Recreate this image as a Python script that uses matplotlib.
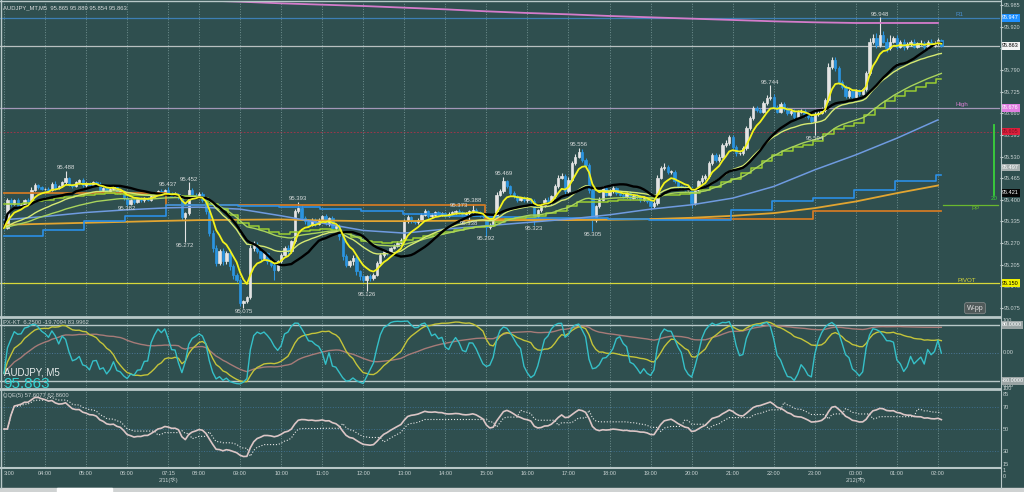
import numpy as np
import pandas as pd
import matplotlib
matplotlib.use("Agg")
import matplotlib.pyplot as plt
from matplotlib.lines import Line2D
from matplotlib.patches import Rectangle

plt.rcParams['font.family'] = ['Liberation Sans', 'Noto Sans CJK JP']

# AUDJPY M5, prices as 1/1000 yen above 95.000, one row per hour
first_open = 330
close_pips = [
    315, 400, 388, 398, 380, 385, 400, 395, 430, 445, 438, 432,   # 03
    432, 428, 448, 435, 440, 452, 465, 445, 440, 452, 458, 443,   # 04
    450, 445, 452, 446, 428, 435, 425, 432, 438, 422, 425, 405,   # 05
    388, 398, 392, 402, 398, 405, 400, 412, 418, 425, 420, 428,   # 06
    418, 412, 418, 408, 348, 360, 428, 415, 410,                  # 07:15
    418, 400, 365, 300, 255, 210, 245, 215, 240, 200, 175, 160,   # 08
    90, 95, 108, 255, 265, 245, 225, 240, 215, 205, 190, 215,     # 09
    235, 255, 245, 275, 365, 375, 345, 335, 325, 340, 328, 340,   # 10
    350, 330, 345, 315, 320, 290, 230, 205, 215, 225, 185, 170,   # 11
    160, 170, 165, 175, 210, 235, 245, 240, 255, 262, 270, 278,   # 12
    335, 348, 335, 332, 340, 355, 365, 350, 355, 362, 355, 360,   # 13
    352, 358, 362, 365, 362, 358, 360, 365, 370, 362, 355, 350,   # 14
    318, 325, 345, 415, 425, 455, 440, 420, 410, 400, 405, 398,   # 15
    402, 395, 350, 368, 385, 400, 392, 410, 440, 465, 470, 425,   # 16
    460, 510, 530, 545, 520, 505, 430, 340, 380, 400, 435, 415,   # 17
    425, 435, 420, 415, 410, 420, 405, 412, 408, 400, 405, 395,   # 18
    380, 390, 465, 495, 500, 482, 485, 455, 440, 438, 430, 435,   # 19
    390, 430, 455, 465, 470, 510, 535, 520, 530, 565, 570, 590,   # 20
    560, 540, 540, 555, 615, 645, 675, 670, 665, 690, 705, 710,   # 21
    680, 665, 688, 672, 660, 668, 650, 665, 668, 655, 648, 638,   # 22
    658, 662, 670, 700, 800, 820, 795, 755, 738, 712, 728, 710,   # 23
    728, 718, 732, 780, 875, 885, 865, 895, 875, 855, 875, 885,   # 00
    860, 875, 858, 868, 875, 860, 870, 872, 858, 875, 865, 870,   # 01
    880, 863,                                                     # 02
]
# upper / lower shadow length in 1/1000 yen
hi_wick = [
    4, 6, 5, 3, 6, 4, 3, 5, 8, 6, 3, 4,
    3, 5, 6, 8, 4, 5, 23, 4, 3, 5, 4, 6,
    3, 4, 5, 3, 6, 2, 4, 3, 5, 4, 2, 3,
    6, 3, 4, 2, 5, 3, 4, 3, 5, 3, 6, 4,
    9, 5, 4, 3, 5, 4, 24, 6, 4,
    5, 6, 4, 5, 10, 8, 6, 9, 5, 8, 6, 5,
    6, 5, 4, 8, 10, 7, 5, 6, 4, 6, 5, 4,
    5, 6, 8, 4, 6, 18, 8, 5, 6, 4, 5, 6,
    5, 8, 4, 6, 5, 6, 4, 6, 5, 8, 6, 4,
    4, 5, 6, 4, 5, 6, 4, 5, 3, 4, 5, 6,
    6, 5, 4, 3, 5, 4, 6, 3, 4, 5, 3, 4,
    3, 4, 5, 5, 8, 3, 4, 3, 18, 4, 5, 3,
    6, 4, 5, 8, 6, 14, 5, 4, 6, 3, 4, 5,
    5, 4, 6, 5, 4, 6, 8, 5, 6, 8, 10, 6,
    8, 6, 9, 11, 8, 6, 5, 6, 5, 8, 6, 5,
    6, 5, 4, 6, 5, 4, 5, 6, 4, 5, 6, 4,
    5, 6, 8, 6, 12, 5, 4, 6, 5, 4, 3, 5,
    6, 5, 4, 8, 6, 8, 5, 6, 8, 6, 9, 5,
    6, 5, 4, 8, 6, 7, 8, 6, 5, 7, 9, 34,
    8, 6, 5, 7, 6, 5, 4, 6, 5, 4, 6, 5,
    6, 5, 8, 6, 10, 9, 8, 6, 5, 7, 5, 6,
    5, 6, 4, 8, 10, 12, 15, 53, 12, 10, 20, 8,
    10, 6, 8, 5, 6, 8, 5, 7, 6, 5, 8, 6,
    5, 4,
]
lo_wick = [
    5, 4, 6, 4, 5, 3, 4, 6, 3, 4, 5, 4,
    4, 5, 3, 6, 4, 3, 4, 5, 6, 3, 4, 5,
    4, 5, 3, 4, 6, 4, 5, 3, 4, 5, 4, 6,
    6, 4, 5, 3, 4, 5, 3, 4, 3, 4, 5, 3,
    4, 5, 3, 6, 8, 76, 5, 6, 4,
    4, 6, 8, 10, 12, 8, 6, 10, 8, 10, 12, 8,
    10, 15, 6, 5, 8, 6, 10, 5, 8, 6, 30, 5,
    6, 5, 8, 5, 4, 6, 5, 8, 6, 4, 6, 5,
    6, 5, 8, 6, 10, 12, 10, 8, 6, 10, 12, 10,
    8, 34, 8, 6, 5, 4, 6, 5, 4, 3, 5, 4,
    5, 4, 6, 5, 4, 3, 5, 6, 4, 5, 4, 3,
    4, 5, 3, 4, 5, 6, 4, 22, 5, 4, 6, 5,
    26, 5, 4, 6, 5, 4, 6, 5, 4, 6, 5, 4,
    5, 6, 27, 5, 4, 6, 5, 4, 6, 5, 4, 8,
    6, 5, 4, 5, 6, 8, 10, 35, 8, 6, 5, 4,
    5, 4, 6, 5, 4, 5, 6, 4, 5, 6, 4, 5,
    8, 5, 6, 4, 5, 6, 4, 5, 6, 5, 4, 5,
    15, 6, 5, 4, 6, 5, 4, 6, 5, 4, 6, 5,
    6, 8, 5, 4, 6, 5, 4, 6, 5, 4, 6, 5,
    6, 5, 4, 6, 5, 4, 6, 5, 4, 6, 5, 6,
    44, 5, 4, 6, 5, 6, 8, 6, 5, 6, 5, 4,
    6, 5, 4, 6, 5, 6, 8, 6, 5, 10, 6, 5,
    6, 5, 8, 4, 6, 5, 4, 6, 5, 4, 6, 5,
    4, 5,
]

# hourly values of the higher time frame lines (03:00 ... 02:00)
blue_step_h = [290, 310, 335, 350, 385, 385, 382, 378, 372, 365, 358, 352,
               347, 345, 345, 342, 340, 340, 370, 395, 405, 430, 455, 475]
gold_ma_h = [325, 328, 331, 334, 337, 339, 340, 341, 338, 336, 336, 337,
             338, 339, 339, 340, 342, 346, 352, 360, 375, 395, 420, 443]
steel_ma_h = [340, 350, 362, 370, 376, 378, 372, 352, 330, 308, 300, 312,
              322, 332, 342, 355, 372, 385, 405, 440, 490, 535, 585, 640]
pink_ma_h = [None, None, None, None, 1008, 999, 995, 990, 986, 982, 977, 972,
             966, 961, 957, 952, 948, 944, 940, 936, 933, 931, 931, 931]
orange_start = ['2026-02-11 03:00', '2026-02-11 07:15', '2026-02-11 15:00', '2026-02-11 23:00']
orange_val = [420, 385, 343, 365]

swing_hi = [18, 48, 54, 86, 133, 137, 146, 168, 224, 256]
swing_lo = [36, 53, 70, 106, 136, 141, 155, 172, 237]

r1 = 95.947
last_price = 95.863
day_high = 95.676
red_level = 95.605
pivot = 95.150
pp = 95.384
spread_bar = (95.414, 95.625)
price_levels = [95.985, 95.920, 95.855, 95.790, 95.725, 95.660, 95.595, 95.530,
                95.465, 95.400, 95.335, 95.270, 95.205, 95.140, 95.075]
date_notes = {'07:15': '2/11(水)', '00:00': '2/12(木)'}
head_main = 'AUDJPY_MT,M5  95.865 95.889 95.854 95.863'
head_osc = 'PX-KT  6.2500 -19.7094 83.9962'
head_qqe = 'QQE(5) 57.6077 62.8600'

# ---------------------------------------------------------------
times = pd.date_range('2026-02-11 03:00', '2026-02-11 06:55', freq='5min').append(
    pd.date_range('2026-02-11 07:15', '2026-02-12 02:05', freq='5min'))
n = len(times)
x = np.arange(n)
c = 95 + np.array(close_pips) / 1000
o = np.r_[95 + first_open / 1000, c[:-1]]
hi = np.maximum(o, c) + np.array(hi_wick) / 1000
lo = np.minimum(o, c) - np.array(lo_wick) / 1000
close = pd.Series(c, index=times)
high = pd.Series(hi, index=times)
low = pd.Series(lo, index=times)

hour_key = times.floor('h')
hour_first = pd.Series(x, index=times).groupby(hour_key).first().values
hour_pos = pd.Series(np.arange(n), index=times).groupby(hour_key).ngroup().values

# moving averages
ema_fast = close.ewm(span=7, adjust=False).mean()
ema_mid = close.ewm(span=26, adjust=False).mean()
sma21 = close.rolling(21, min_periods=1).mean()
ema_slow = close.ewm(span=50, adjust=False).mean()
m15 = close.resample('15min').last().dropna().ewm(span=20, adjust=False).mean()
step15 = m15.reindex(times.floor('15min')).values
step1h = 95 + np.array(blue_step_h)[hour_pos] / 1000
orange_idx = np.searchsorted(times, pd.to_datetime(orange_start))
orange_line = 95 + np.array(orange_val)[np.searchsorted(orange_idx, x, side='right') - 1] / 1000


def stoch(k, s):
    hh = high.rolling(k, min_periods=1).max()
    ll = low.rolling(k, min_periods=1).min()
    v = ((close - ll) / (hh - ll)).fillna(0.5)
    return v.ewm(span=s, adjust=False).mean() * 200 - 100


osc_fast = stoch(8, 3)
osc_mid = stoch(24, 8)
osc_slow = stoch(90, 22)

# QQE(5)
d = close.diff().fillna(0)
up = d.clip(lower=0).ewm(alpha=1 / 14, adjust=True).mean()
dn = (-d.clip(upper=0)).ewm(alpha=1 / 14, adjust=True).mean()
rsi = (100 - 100 / (1 + up / dn.replace(0, np.nan))).fillna(50)
rsi_ma = rsi.ewm(span=5, adjust=False).mean().values
atr_rsi = np.abs(np.diff(rsi_ma, prepend=rsi_ma[0]))
dar = pd.Series(atr_rsi).ewm(span=27, adjust=False).mean().ewm(span=27, adjust=False).mean().values * 4.236
trail = np.empty(n)
trail[0] = rsi_ma[0]
for i in range(1, n):
    r, rp, tp = rsi_ma[i], rsi_ma[i - 1], trail[i - 1]
    if r < tp:
        v = r + dar[i]
        if rp < tp and v > tp:
            v = tp
    elif r > tp:
        v = r - dar[i]
        if rp > tp and v < tp:
            v = tp
    else:
        v = tp
    trail[i] = v

# ---------------------------------------------------------------
BG = '#2f4f4f'
FG = '#c8d2d2'
W, H = 1024, 492
fig = plt.figure(figsize=(10.24, 4.92), dpi=100, facecolor=BG)


def fy(py):
    return 1 - py / H


ax = fig.add_axes([0, fy(316), 1000 / W, fy(2) - fy(316)], facecolor=BG)
ax1 = fig.add_axes([0, fy(388), 1000 / W, fy(318) - fy(388)], facecolor=BG, sharex=ax)
ax2 = fig.add_axes([0, fy(467), 1000 / W, fy(390) - fy(467)], facecolor=BG, sharex=ax)

px_per_bar = 3.421
ax.set_xlim(-4 / px_per_bar, (1000 - 4) / px_per_bar)
ax.set_ylim(95.985 - 311 / 333, 95.985 + 3 / 333)
ax1.set_ylim(-100, 100)
ax2.set_ylim(15.5, 85.5)

for a in (ax, ax1, ax2):
    for s in a.spines.values():
        s.set_visible(False)
    a.set_xticks(hour_first)
    a.grid(axis='x', color='#6f8f8f', ls=':', lw=0.7)
    a.tick_params(axis='x', length=0, labelbottom=False)
    a.tick_params(axis='y', length=0, labelleft=False, labelright=False)

# candles
bull = c >= o
ccol = np.where(bull, '#e4e4e4', '#2b95e0')
ax.vlines(x, lo, hi, colors=ccol, lw=0.8, zorder=2)
ax.bar(x, c - o, bottom=o, width=0.68, color=ccol, edgecolor=ccol, lw=0.5, zorder=2)

# horizontal levels
ax.axhline(r1, color='#3d7fb5', lw=0.9, zorder=1)
ax.axhline(last_price, color='#b8c0c0', lw=0.9, zorder=1)
ax.axhline(day_high, color='#a397b8', lw=0.9, zorder=1)
ax.axhline(red_level, color='#b03048', lw=0.6, ls=(0, (2, 2)), zorder=1)
ax.axhline(pivot, color='#d8d83a', lw=0.9, zorder=1)
ax.plot([0.943, 0.998], [pp, pp], color='#6ab82e', lw=0.9, transform=ax.get_yaxis_transform())
ax.plot([0.994, 0.994], spread_bar, color='#3ad23a', lw=1.3, transform=ax.get_yaxis_transform())

# indicator lines
ax.plot(x, orange_line, color='#cf7a25', lw=1.3, drawstyle='steps-mid', zorder=3)
gx = hour_first
ax.plot(gx, 95 + np.array(gold_ma_h) / 1000, color='#e2a531', lw=1.3, zorder=3)
ax.plot(x, step1h, color='#2b8fe6', lw=1.2, drawstyle='steps-mid', zorder=3)
ax.plot(gx, 95 + np.array(steel_ma_h) / 1000, color='#6f9be0', lw=1.1, zorder=3)
pk = [(gx[i], 95 + v / 1000) for i, v in enumerate(pink_ma_h) if v is not None]
ax.plot([p[0] for p in pk], [p[1] for p in pk], color='#d47ccb', lw=1.3, zorder=3)
ax.plot(x, step15, color='#9acd32', lw=1.1, drawstyle='steps-mid', zorder=3)
ax.plot(x, ema_slow, color='#a9d45c', lw=1.0, zorder=3)
ax.plot(x, ema_mid, color='#d6ea72', lw=1.0, zorder=3)
ax.plot(x, sma21, color='#000000', lw=1.7, zorder=4)
ax.plot(x, ema_fast, color='#f2f21c', lw=1.3, zorder=4)

# swing labels
for b in swing_hi:
    ax.text(b, hi[b] + 0.002, f'{hi[b]:.3f}', ha='center', va='bottom', fontsize=4.3, color='#d8dcdc', zorder=5)
for b in swing_lo:
    ax.text(b, lo[b] - 0.002, f'{lo[b]:.3f}', ha='center', va='top', fontsize=4.3, color='#d8dcdc', zorder=5)

# right price scale
ax.yaxis.tick_right()
ax.set_yticks(price_levels)
ax.set_yticklabels([f'{v:.3f}' for v in price_levels])
ax.tick_params(axis='y', labelright=True, length=2, color=FG, labelcolor=FG, labelsize=4, pad=1)

yt = ax.get_yaxis_transform()
boxes = [(r1, '95.947', '#1e90ff', 'white'), (last_price, '95.863', '#f4f4f4', 'black'),
         (day_high, '95.676', '#e07ee0', 'white'), (red_level, '95.605', '#dc1f3c', '#7a1020'),
         (95.497, '95.497', '#a8b0b0', 'white'), (95.421, '95.421', '#050505', 'white'),
         (pivot, '95.150', '#f0f000', 'black')]
for yv, t, fc, tc in boxes:
    ax.text(1.002, yv, t, transform=yt, fontsize=4, color=tc, va='center', ha='left',
            bbox=dict(boxstyle='square,pad=0.25', fc=fc, ec='none'), clip_on=False, zorder=6)
ax.text(0.955, r1 + 0.006, 'R1', transform=yt, fontsize=4.5, color='#4a8fd0')
ax.text(0.955, day_high + 0.006, 'High', transform=yt, fontsize=4.5, color='#d57ed0')
ax.text(0.957, pivot + 0.004, 'PIVOT', transform=yt, fontsize=4.5, color='#d8d83a')
ax.text(0.972, pp - 0.016, 'PP', transform=yt, fontsize=4.5, color='#6ab82e')
ax.text(0.994, spread_bar[0] - 0.002, '20', transform=yt, fontsize=4.5, color='#3ad23a', ha='center', va='top')
ax.text(0.975, 0.025, 'W-pp', transform=ax.transAxes, fontsize=5, color='#e0e0e0', ha='center', va='center',
        bbox=dict(boxstyle='round,pad=0.3', fc='#505a5a', ec='#8a9090', lw=0.5))
ax.text(0.003, 0.99, head_main, transform=ax.transAxes, fontsize=4.2, color='#d8dcdc', va='top')

# panel 1: PX-KT
ax1.axhline(80, color='#b8c8c8', lw=1.0)
ax1.axhline(-80, color='#b8c8c8', lw=1.0)
ax1.axhline(0, color='#4d7799', lw=0.7, ls=':')
ax1.plot(x, osc_slow, color='#a77b78', lw=1.0)
ax1.plot(x, osc_mid, color='#c4c43a', lw=1.0)
ax1.plot(x, osc_fast, color='#35c0c8', lw=1.0)
ax1.text(0.003, 0.93, head_osc, transform=ax1.transAxes, fontsize=4.2, color='#c8d0d0', va='center')
ax1.text(0.004, 0.22, 'AUDJPY, M5', transform=ax1.transAxes, fontsize=7, color='#e8ecec', va='center')
ax1.text(0.003, 0.05, '95.863', transform=ax1.transAxes, fontsize=11, color='#33d2d2', va='center')
y1 = ax1.get_yaxis_transform()
for yv, t in [(92, '100'), (0, '0.00'), (-92, '-100')]:
    ax1.text(1.003, yv, t, transform=y1, fontsize=4, color=FG, va='center', clip_on=False)
for yv, t in [(80, '80.0000'), (-80, '-80.0000')]:
    ax1.text(1.002, yv, t, transform=y1, fontsize=4, color='white', va='center', clip_on=False,
             bbox=dict(boxstyle='square,pad=0.2', fc='#9aa4a4', ec='none'))

# panel 2: QQE
for lv in (70, 50, 30):
    ax2.axhline(lv, color='#3f6f8f', lw=0.7, ls=':')
ax2.plot(x, trail, color='#e6e6e6', lw=0.8, ls=':')
ax2.plot(x, rsi_ma, color='#dcc6c6', lw=1.2)
ax2.text(0.003, 0.93, head_qqe, transform=ax2.transAxes, fontsize=4.2, color='#c8d0d0', va='center')
y2 = ax2.get_yaxis_transform()
for yv, t in [(70, '70'), (50, '50'), (30, '30')]:
    ax2.text(1.003, yv, t, transform=y2, fontsize=4, color=FG, va='center', clip_on=False)
for py, t in [(389, '100'), (395, '85'), (464, '15'), (470, '1'), (477, '0')]:
    fig.text(1003 / W, fy(py), t, fontsize=4, color=FG, va='center')

# time axis
labels = []
for i in hour_first:
    t = times[i].strftime('%H:%M')
    labels.append(t + ('\n' + date_notes[t] if t in date_notes else ''))
labels[0] = labels[0][1:]
ax2.set_xticklabels(labels)
ax2.tick_params(axis='x', labelbottom=True, labelsize=4, labelcolor=FG, pad=3)
for lab in ax2.get_xticklabels():
    lab.set_linespacing(1.1)
ax2.get_xticklabels()[0].set_horizontalalignment('left')

# frame lines
for py, lw in [(1, 1.0), (317, 2.0), (389, 2.0), (467.5, 1.5)]:
    fig.add_artist(Line2D([0, 1000 / W], [fy(py), fy(py)], color='#b8c8c8', lw=lw))
fig.add_artist(Line2D([1000.5 / W, 1000.5 / W], [fy(0), fy(488)], color='#b8c8c8', lw=0.8))
fig.add_artist(Line2D([0.5 / W, 0.5 / W], [fy(0), fy(488)], color='#b8c8c8', lw=1.0))
fig.add_artist(Rectangle((0, 0), 1, 4 / H, transform=fig.transFigure, color='#cfd2d2'))
fig.add_artist(Rectangle((57 / W, 0), 55 / W, 4.5 / H, transform=fig.transFigure, color='#ffffff'))

fig.savefig('out.png', dpi=100, facecolor=BG)
